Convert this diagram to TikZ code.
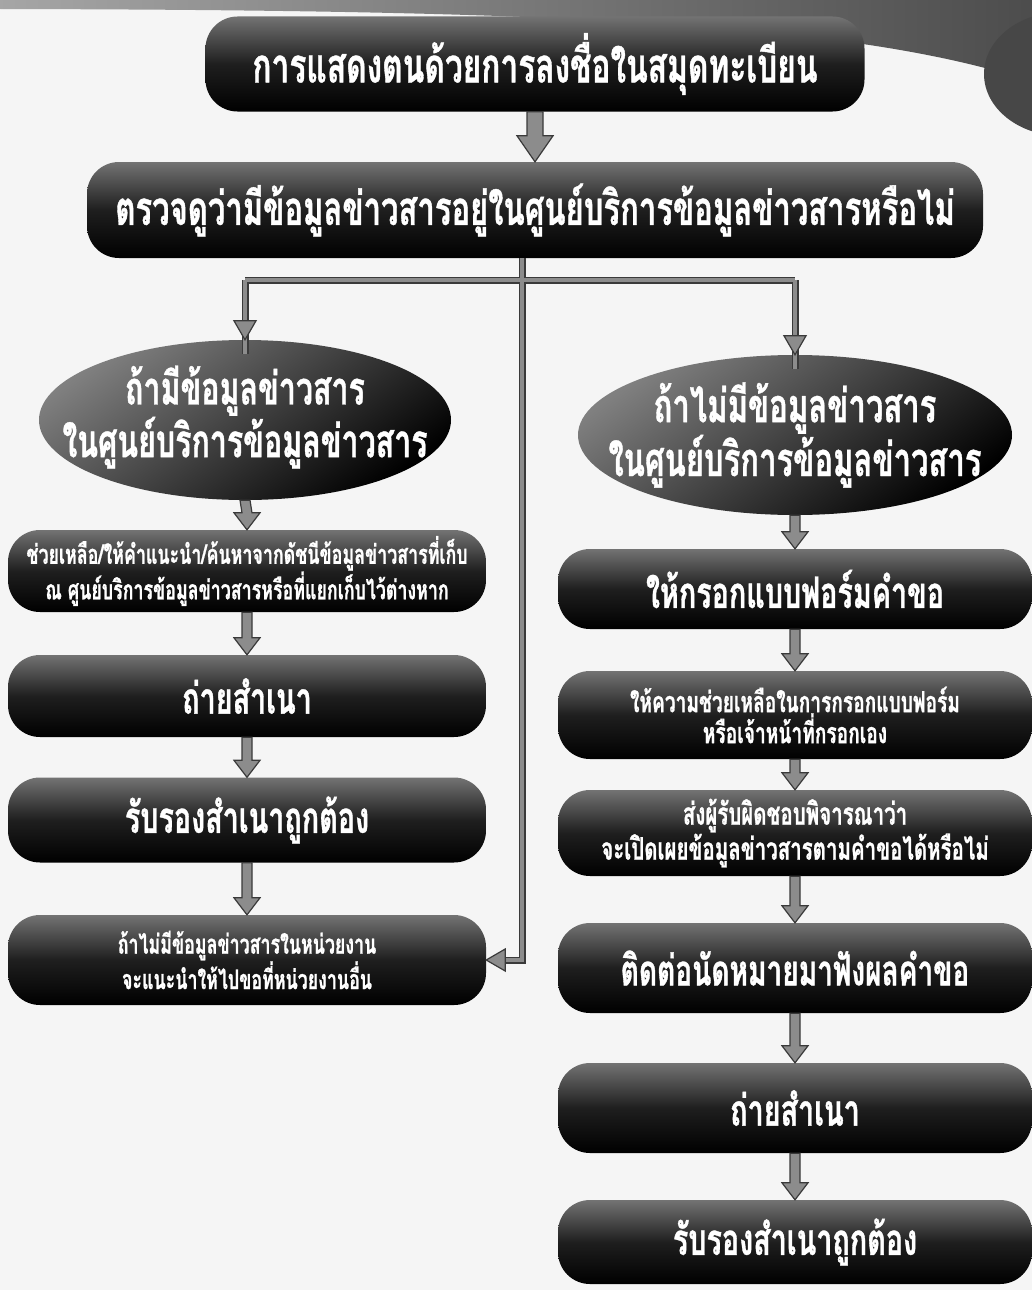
\documentclass[tikz,border=0pt]{standalone}
\usepackage{fontspec}
\newfontfamily\thaifont[Script=Thai,FakeStretch=0.66,FakeBold=0.8]{Loma}
\usetikzlibrary{calc,shapes.geometric}
\definecolor{arrowfill}{HTML}{8C8C8C}
\definecolor{arrowline}{HTML}{3A3A3A}
\newcommand\fsz[2]{\fontsize{#1pt}{#2pt}\selectfont}
\tikzset{
  box/.style={rectangle, rounded corners=32pt, inner sep=0pt, text=white, align=center,
    top color=black!55, bottom color=black, middle color=black!88},
  oval/.style={ellipse, inner sep=0pt, top color=black!50, bottom color=black, shading angle=35},
  ovtext/.style={inner sep=0pt, text=white, align=center},
  arr/.style={fill=arrowfill, draw=arrowline, line width=1.2pt, line join=miter},
  connout/.style={draw=arrowline, line width=7pt, line join=miter},
  connin/.style={draw=arrowfill, line width=4.6pt, line join=miter},
}
% block arrow from #1.south to #2.north
\newcommand\barrow[5]{%
  \filldraw[arr] ($(#1.south)+(-#3,0)$) -- ($(#1.south)+(#3,0)$) -- ($(#2.north)+(#3,-#5)$)
    -- ($(#2.north)+(#4,-#5)$) -- (#2.north) -- ($(#2.north)+(-#4,-#5)$)
    -- ($(#2.north)+(-#3,-#5)$) -- cycle;}
\newcommand\dhead[1]{\filldraw[arr] ($#1+(-11,-19)$) -- #1 -- ($#1+(11,-19)$) -- cycle;}
\newcommand\lhead[1]{\filldraw[arr] ($#1+(19,-11)$) -- #1 -- ($#1+(19,11)$) -- cycle;}
\begin{document}
\begin{tikzpicture}[x=1pt,y=-1pt]
\useasboundingbox (0,0) rectangle (1032,1290);
\clip (0,0) rectangle (1032,1290);
\fill[black!4] (0,0) rectangle (1032,1290);
% decorative band at the top
\shade[left color=black!35, right color=black!70] (0,0) -- (1032,0) -- (1032,60)
  -- (985,68) .. controls (800,20) and (500,10) .. (0,9) -- cycle;
\fill[black!72] (1062,74) ellipse [x radius=78pt, y radius=62pt];

% nodes
\node[box, minimum width=659, minimum height=95, font=\thaifont\bfseries\fsz{48}{54}] (T1) at (535,64)
  {การแสดงตนด้วยการลงชื่อในสมุดทะเบียน};
\node[box, minimum width=896, minimum height=96, font=\thaifont\bfseries\fsz{47}{54}] (T2) at (535,210)
  {ตรวจดูว่ามีข้อมูลข่าวสารอยู่ในศูนย์บริการข้อมูลข่าวสารหรือไม่};

\node[oval, minimum width=412, minimum height=160] (LE) at (245,420) {};
\node[ovtext, font=\thaifont\bfseries\fsz{46}{50}] (LEt) at ([yshift=3pt]LE) {ถ้ามีข้อมูลข่าวสาร\\ในศูนย์บริการข้อมูลข่าวสาร};
\node[oval, minimum width=434, minimum height=160] (RE) at (795,435) {};
\node[ovtext, font=\thaifont\bfseries\fsz{47}{50}] (REt) at (RE) {ถ้าไม่มีข้อมูลข่าวสาร\\ในศูนย์บริการข้อมูลข่าวสาร};

\node[box, minimum width=478, minimum height=82, font=\thaifont\bfseries\fsz{27}{32}] (L1) at (247,571)
  {ช่วยเหลือ/ให้คำแนะนำ/ค้นหาจากดัชนีข้อมูลข่าวสารที่เก็บ\\ณ ศูนย์บริการข้อมูลข่าวสารหรือที่แยกเก็บไว้ต่างหาก};
\node[box, minimum width=478, minimum height=82, font=\thaifont\bfseries\fsz{43.5}{48}] (L2) at (247,696) {ถ่ายสำเนา};
\node[box, minimum width=478, minimum height=85, font=\thaifont\bfseries\fsz{43.5}{48}] (L3) at (247,820) {รับรองสำเนาถูกต้อง};
\node[box, minimum width=478, minimum height=90, font=\thaifont\bfseries\fsz{27}{33}] (L4) at (247,960)
  {ถ้าไม่มีข้อมูลข่าวสารในหน่วยงาน\\จะแนะนำให้ไปขอที่หน่วยงานอื่น};

\node[box, minimum width=474, minimum height=80, font=\thaifont\bfseries\fsz{43.5}{48}] (R1) at (795,589) {ให้กรอกแบบฟอร์มคำขอ};
\node[box, minimum width=474, minimum height=88, font=\thaifont\bfseries\fsz{29}{31}] (R2) at (795,715)
  {ให้ความช่วยเหลือในการกรอกแบบฟอร์ม\\หรือเจ้าหน้าที่กรอกเอง};
\node[box, minimum width=474, minimum height=86, font=\thaifont\bfseries\fsz{31}{35}] (R3) at (795,833)
  {ส่งผู้รับผิดชอบพิจารณาว่า\\จะเปิดเผยข้อมูลข่าวสารตามคำขอได้หรือไม่};
\node[box, minimum width=474, minimum height=90, font=\thaifont\bfseries\fsz{42.5}{48}] (R4) at (795,968) {ติดต่อนัดหมายมาฟังผลคำขอ};
\node[box, minimum width=474, minimum height=90, font=\thaifont\bfseries\fsz{43.5}{48}] (R5) at (795,1108) {ถ่ายสำเนา};
\node[box, minimum width=474, minimum height=84, font=\thaifont\bfseries\fsz{43.5}{48}] (R6) at (795,1242) {รับรองสำเนาถูกต้อง};

\coordinate (hub) at (522,280);

% thin connectors
\foreach \s in {connout, connin}{
  \draw[\s] (T2.south -| hub) -- (hub |- L4.east) -- ([xshift=14pt]L4.east);
  \draw[\s] (hub -| LE.north) -- (hub -| RE.north);
  \draw[\s] (hub -| LE.north) -- ([yshift=-14pt]LE.north);
  \draw[\s] (hub -| RE.north) -- ([yshift=-14pt]RE.north);
}
\dhead{(LE.north)}
\dhead{(RE.north)}
\lhead{(L4.east)}

% block arrows
\barrow{T1}{T2}{8}{18}{26}
\barrow{LE}{L1}{5}{13}{17}
\barrow{L1}{L2}{5}{13}{17}
\barrow{L2}{L3}{5}{13}{17}
\barrow{L3}{L4}{5}{13}{17}
\barrow{RE}{R1}{5}{13}{17}
\barrow{R1}{R2}{5}{13}{17}
\barrow{R2}{R3}{5}{13}{17}
\barrow{R3}{R4}{5}{13}{17}
\barrow{R4}{R5}{5}{13}{17}
\barrow{R5}{R6}{5}{13}{17}
\end{tikzpicture}
\end{document}
